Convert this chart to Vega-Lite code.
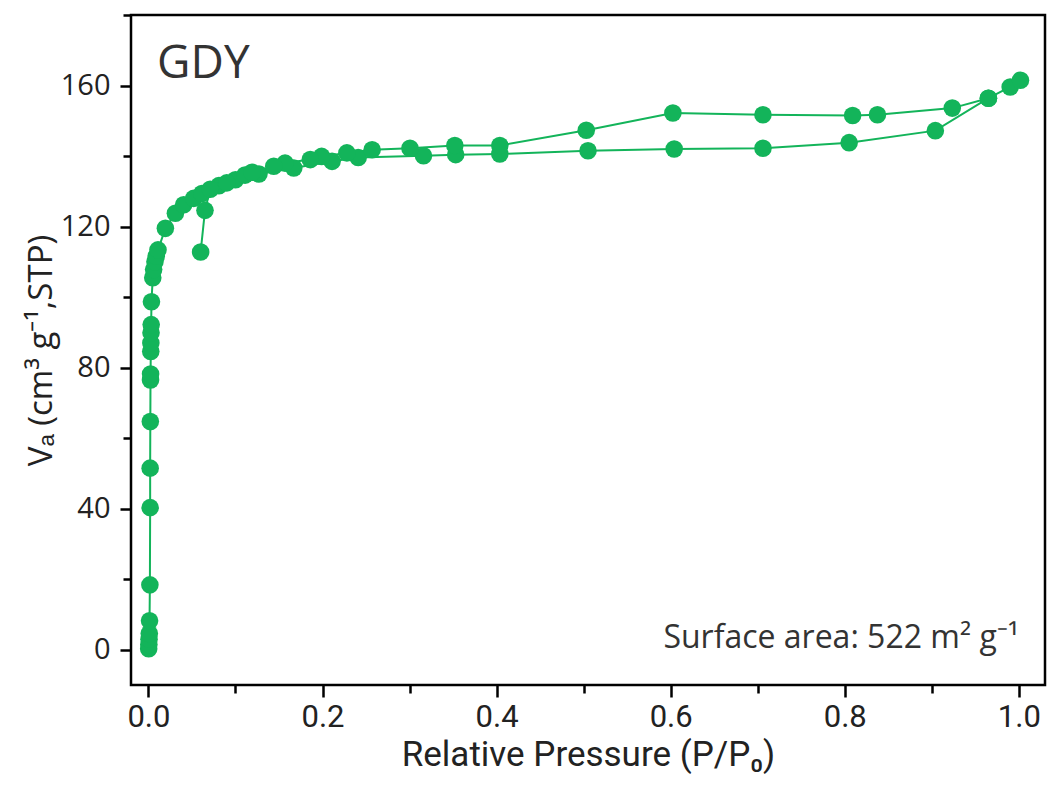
{
  "$schema": "https://vega.github.io/schema/vega-lite/v6.json",
  "width": 914,
  "height": 670,
  "autosize": {"type": "none"},
  "padding": {"left": 131, "top": 15, "right": 5, "bottom": 100},
  "background": "white",
  "config": {
    "view": {"stroke": "#000000", "strokeWidth": 2.5},
    "axis": {
      "domain": false,
      "grid": false,
      "tickColor": "#000000",
      "tickWidth": 2.5,
      "labelColor": "#222222",
      "titleColor": "#222222",
      "titleFontWeight": "normal",
      "labelOverlap": false,
      "labelBound": false,
      "labelFlush": false
    }
  },
  "datasets": {
    "iso": [
      {"branch": "ads", "i": 1, "p": 0.0003, "v": 0.3},
      {"branch": "ads", "i": 2, "p": 0.0005, "v": 1.5},
      {"branch": "ads", "i": 3, "p": 0.0007, "v": 3.0},
      {"branch": "ads", "i": 4, "p": 0.001, "v": 4.6},
      {"branch": "ads", "i": 5, "p": 0.0013, "v": 8.2},
      {"branch": "ads", "i": 6, "p": 0.0017, "v": 18.4},
      {"branch": "ads", "i": 7, "p": 0.002, "v": 40.3},
      {"branch": "ads", "i": 8, "p": 0.002, "v": 51.5},
      {"branch": "ads", "i": 9, "p": 0.0022, "v": 64.7},
      {"branch": "ads", "i": 10, "p": 0.0024, "v": 76.5},
      {"branch": "ads", "i": 11, "p": 0.0025, "v": 78.2},
      {"branch": "ads", "i": 12, "p": 0.0027, "v": 84.6},
      {"branch": "ads", "i": 13, "p": 0.0028, "v": 87.0},
      {"branch": "ads", "i": 14, "p": 0.003, "v": 89.9},
      {"branch": "ads", "i": 15, "p": 0.0032, "v": 92.2},
      {"branch": "ads", "i": 16, "p": 0.0035, "v": 98.7},
      {"branch": "ads", "i": 17, "p": 0.005, "v": 105.5},
      {"branch": "ads", "i": 18, "p": 0.006, "v": 107.8},
      {"branch": "ads", "i": 19, "p": 0.0075, "v": 110.0},
      {"branch": "ads", "i": 20, "p": 0.009, "v": 111.6},
      {"branch": "ads", "i": 21, "p": 0.011, "v": 113.4},
      {"branch": "ads", "i": 22, "p": 0.0195, "v": 119.5},
      {"branch": "ads", "i": 23, "p": 0.031, "v": 123.8},
      {"branch": "ads", "i": 24, "p": 0.0405, "v": 126.2},
      {"branch": "ads", "i": 25, "p": 0.052, "v": 128.0},
      {"branch": "ads", "i": 26, "p": 0.0615, "v": 129.4},
      {"branch": "ads", "i": 27, "p": 0.081, "v": 131.6},
      {"branch": "ads", "i": 28, "p": 0.1, "v": 133.3},
      {"branch": "ads", "i": 29, "p": 0.111, "v": 134.6},
      {"branch": "ads", "i": 30, "p": 0.127, "v": 134.9},
      {"branch": "ads", "i": 31, "p": 0.167, "v": 136.6},
      {"branch": "ads", "i": 32, "p": 0.211, "v": 138.5},
      {"branch": "ads", "i": 33, "p": 0.241, "v": 139.6},
      {"branch": "ads", "i": 34, "p": 0.316, "v": 140.1},
      {"branch": "ads", "i": 35, "p": 0.353, "v": 140.4},
      {"branch": "ads", "i": 36, "p": 0.4037, "v": 140.6},
      {"branch": "ads", "i": 37, "p": 0.505, "v": 141.5},
      {"branch": "ads", "i": 38, "p": 0.604, "v": 142.0},
      {"branch": "ads", "i": 39, "p": 0.706, "v": 142.2},
      {"branch": "ads", "i": 40, "p": 0.805, "v": 143.8},
      {"branch": "ads", "i": 41, "p": 0.904, "v": 147.2},
      {"branch": "ads", "i": 42, "p": 0.965, "v": 156.4},
      {"branch": "ads", "i": 43, "p": 0.99, "v": 159.6},
      {"branch": "ads", "i": 44, "p": 1.0018, "v": 161.5},
      {"branch": "des", "i": 1, "p": 0.965, "v": 156.4},
      {"branch": "des", "i": 2, "p": 0.9235, "v": 153.6},
      {"branch": "des", "i": 3, "p": 0.8375, "v": 151.7},
      {"branch": "des", "i": 4, "p": 0.809, "v": 151.5},
      {"branch": "des", "i": 5, "p": 0.706, "v": 151.7},
      {"branch": "des", "i": 6, "p": 0.6025, "v": 152.2},
      {"branch": "des", "i": 7, "p": 0.503, "v": 147.3},
      {"branch": "des", "i": 8, "p": 0.4037, "v": 143.0},
      {"branch": "des", "i": 9, "p": 0.352, "v": 143.0},
      {"branch": "des", "i": 10, "p": 0.3005, "v": 142.2},
      {"branch": "des", "i": 11, "p": 0.257, "v": 141.8},
      {"branch": "des", "i": 12, "p": 0.228, "v": 140.9},
      {"branch": "des", "i": 13, "p": 0.199, "v": 139.9},
      {"branch": "des", "i": 14, "p": 0.186, "v": 139.0},
      {"branch": "des", "i": 15, "p": 0.157, "v": 138.0},
      {"branch": "des", "i": 16, "p": 0.144, "v": 137.1},
      {"branch": "des", "i": 17, "p": 0.119, "v": 135.4},
      {"branch": "des", "i": 18, "p": 0.09, "v": 132.4},
      {"branch": "des", "i": 19, "p": 0.071, "v": 130.6},
      {"branch": "des", "i": 20, "p": 0.065, "v": 124.6},
      {"branch": "des", "i": 21, "p": 0.06, "v": 112.8}
    ]
  },
  "layer": [
    {
      "data": {"name": "iso"},
      "mark": {"type": "line", "color": "#13b45a", "strokeWidth": 2},
      "encoding": {
        "x": {
          "field": "p", "type": "quantitative",
          "scale": {"domain": [-0.02, 1.03], "nice": false, "zero": false},
          "axis": {
            "title": "Relative Pressure (P/P₀)",
            "titleFont": "Roboto, sans-serif",
            "titleFontSize": 35,
            "titlePadding": 5,
            "labelFont": "Roboto, sans-serif",
            "labelFontSize": 31,
            "labelPadding": 5,
            "values": [0, 0.1, 0.2, 0.3, 0.4, 0.5, 0.6, 0.7, 0.8, 0.9, 1.0],
            "labelExpr": "abs(datum.value*5 - round(datum.value*5)) < 0.01 ? format(datum.value, '.1f') : ''",
            "tickSize": {"condition": {"test": "abs(datum.value*5 - round(datum.value*5)) < 0.01", "value": 12}, "value": 8}
          }
        },
        "y": {
          "field": "v", "type": "quantitative",
          "scale": {"domain": [-10, 180], "nice": false, "zero": false},
          "axis": {
            "title": "Vₐ (cm³ g⁻¹,STP)",
            "titleFont": "Open Sans, sans-serif",
            "titleFontSize": 33,
            "titlePadding": 2,
            "labelFont": "Open Sans, sans-serif",
            "labelFontSize": 29,
            "labelPadding": 10,
            "values": [0, 20, 40, 60, 80, 100, 120, 140, 160, 180],
            "labelExpr": "datum.value % 40 == 0 && datum.value < 170 ? datum.value : ''",
            "tickSize": {"condition": {"test": "datum.value % 40 == 0", "value": 11}, "value": 8}
          }
        },
        "detail": {"field": "branch", "type": "nominal"},
        "order": {"field": "i", "type": "quantitative"}
      }
    },
    {
      "data": {"name": "iso"},
      "mark": {"type": "circle", "color": "#13b45a", "size": 310, "opacity": 1},
      "encoding": {
        "x": {"field": "p", "type": "quantitative"},
        "y": {"field": "v", "type": "quantitative"}
      }
    },
    {
      "data": {"values": [{"label": "GDY"}]},
      "mark": {"type": "text", "align": "left", "baseline": "middle", "font": "Open Sans, sans-serif", "fontSize": 46, "color": "#333333"},
      "encoding": {
        "x": {"datum": 0.01},
        "y": {"datum": 166},
        "text": {"field": "label"}
      }
    },
    {
      "data": {"values": [{"label": "Surface area: 522 m² g⁻¹"}]},
      "mark": {"type": "text", "align": "right", "baseline": "middle", "font": "Open Sans, sans-serif", "fontSize": 32, "color": "#333333"},
      "encoding": {
        "x": {"datum": 1.0},
        "y": {"datum": 3.4},
        "text": {"field": "label"}
      }
    }
  ]
}
